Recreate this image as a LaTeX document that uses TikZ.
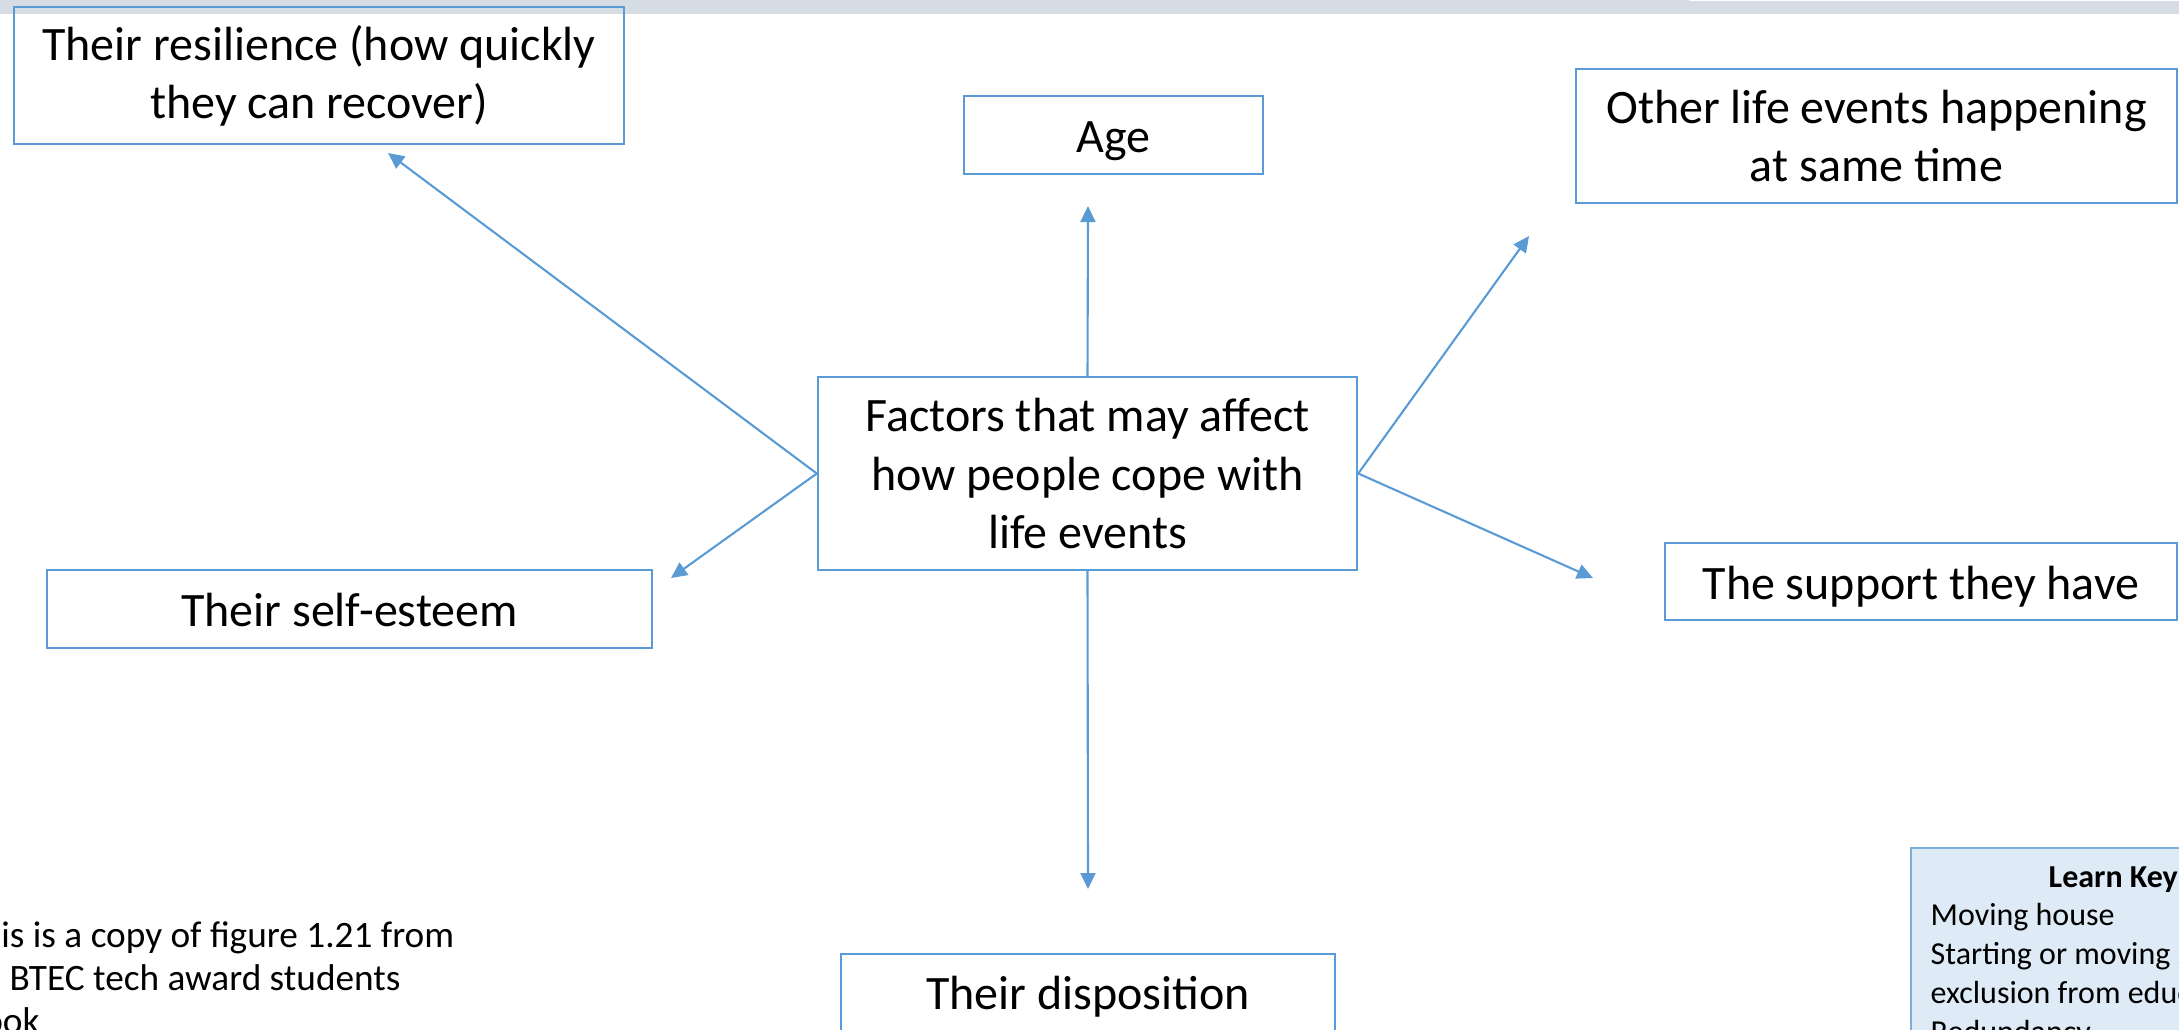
\documentclass[tikz,border=0pt]{standalone}
\usepackage{fontspec}
\setmainfont{Carlito}
\usetikzlibrary{arrows.meta}
\definecolor{boxblue}{HTML}{5B9BD5}
\definecolor{keyfill}{HTML}{DEEBF7}
\definecolor{bargray}{HTML}{D6DCE4}

\begin{document}
\begin{tikzpicture}[x=0.01cm, y=-0.01cm,
	factor/.style={draw=boxblue, line width=0.6pt, inner sep=0pt, align=center, font=\fontsize{13.65}{16.5}\selectfont},
	oneline/.style={factor, text height=0.47cm, text depth=0.12cm},
	link/.style={draw=boxblue, line width=0.6pt, -{Triangle[length=0.16cm,width=0.15cm]}}]
	\useasboundingbox (0,0) rectangle (2179,1029);
	\clip (0,0) rectangle (2179,1029);
	\fill[bargray] (0,1) rectangle (2179,14);
	\fill[bargray] (0,0) rectangle (1689,1);
	%\draw[help lines] (0,0) grid[step=100] (2179,1029);

	\node[factor, minimum width=5.39cm, minimum height=1.93cm] (hub) at (1087.5,473.5) {Factors that may affect\\how people cope with\\life events};
	\node[factor, minimum width=6.10cm, minimum height=1.37cm] (resil) at (319,75.5) {Their resilience (how quickly\\they can recover)};
	\node[oneline, minimum width=2.99cm, minimum height=0.78cm] (age) at (1113.5,135) {Age};
	\node[factor, minimum width=6.01cm, minimum height=1.34cm] (other) at (1876.5,136) {Other life events happening\\at same time};
	\node[oneline, minimum width=6.05cm, minimum height=0.78cm] (esteem) at (349.5,609) {Their self-esteem};
	\node[oneline, minimum width=5.12cm, minimum height=0.77cm] (support) at (1921,581.5) {The support they have};
	\node[oneline, anchor=north, minimum width=4.94cm, text height=0.55cm, text depth=0.3cm] (dispo) at (1088,953) {Their disposition};

	\coordinate (tAge) at (1088,206);
	\coordinate (tDispo) at (1088,889);
	\coordinate (tResil) at (388,153);
	\coordinate (tEsteem) at (671,578);
	\coordinate (tOther) at (1529,236);
	\coordinate (tSupport) at (1593,578);
	\draw[link] (hub.north) -- (tAge);
	\draw[link] (hub.south) -- (tDispo);
	\draw[link] (hub.west) -- (tResil);
	\draw[link] (hub.west) -- (tEsteem);
	\draw[link] (hub.east) -- (tOther);
	\draw[link] (hub.east) -- (tSupport);

	% note and key, both cut off by the page edge
	\node[anchor=base west, align=left, inner sep=0pt, font=\fontsize{10.6}{12.2}\selectfont] (note) at (-37,1033) {This is a copy of figure 1.21 from\\an BTEC tech award students\\book};
	\node[draw=boxblue!80, fill=keyfill, line width=0.6pt, anchor=north west, minimum width=3.2cm, minimum height=2.4cm] (key) at (1910,847) {};
	\node[anchor=base west, inner sep=0pt, font=\fontsize{9.1}{11}\selectfont\bfseries] (keyhead) at (2048,887) {Learn Key};
	\node[anchor=base west, align=left, inner sep=0pt, font=\fontsize{9.1}{11}\selectfont] (keylist) at (1930,1042) {Moving house\\Starting or moving school\\exclusion from education\\Redundancy};
\end{tikzpicture}
\end{document}
